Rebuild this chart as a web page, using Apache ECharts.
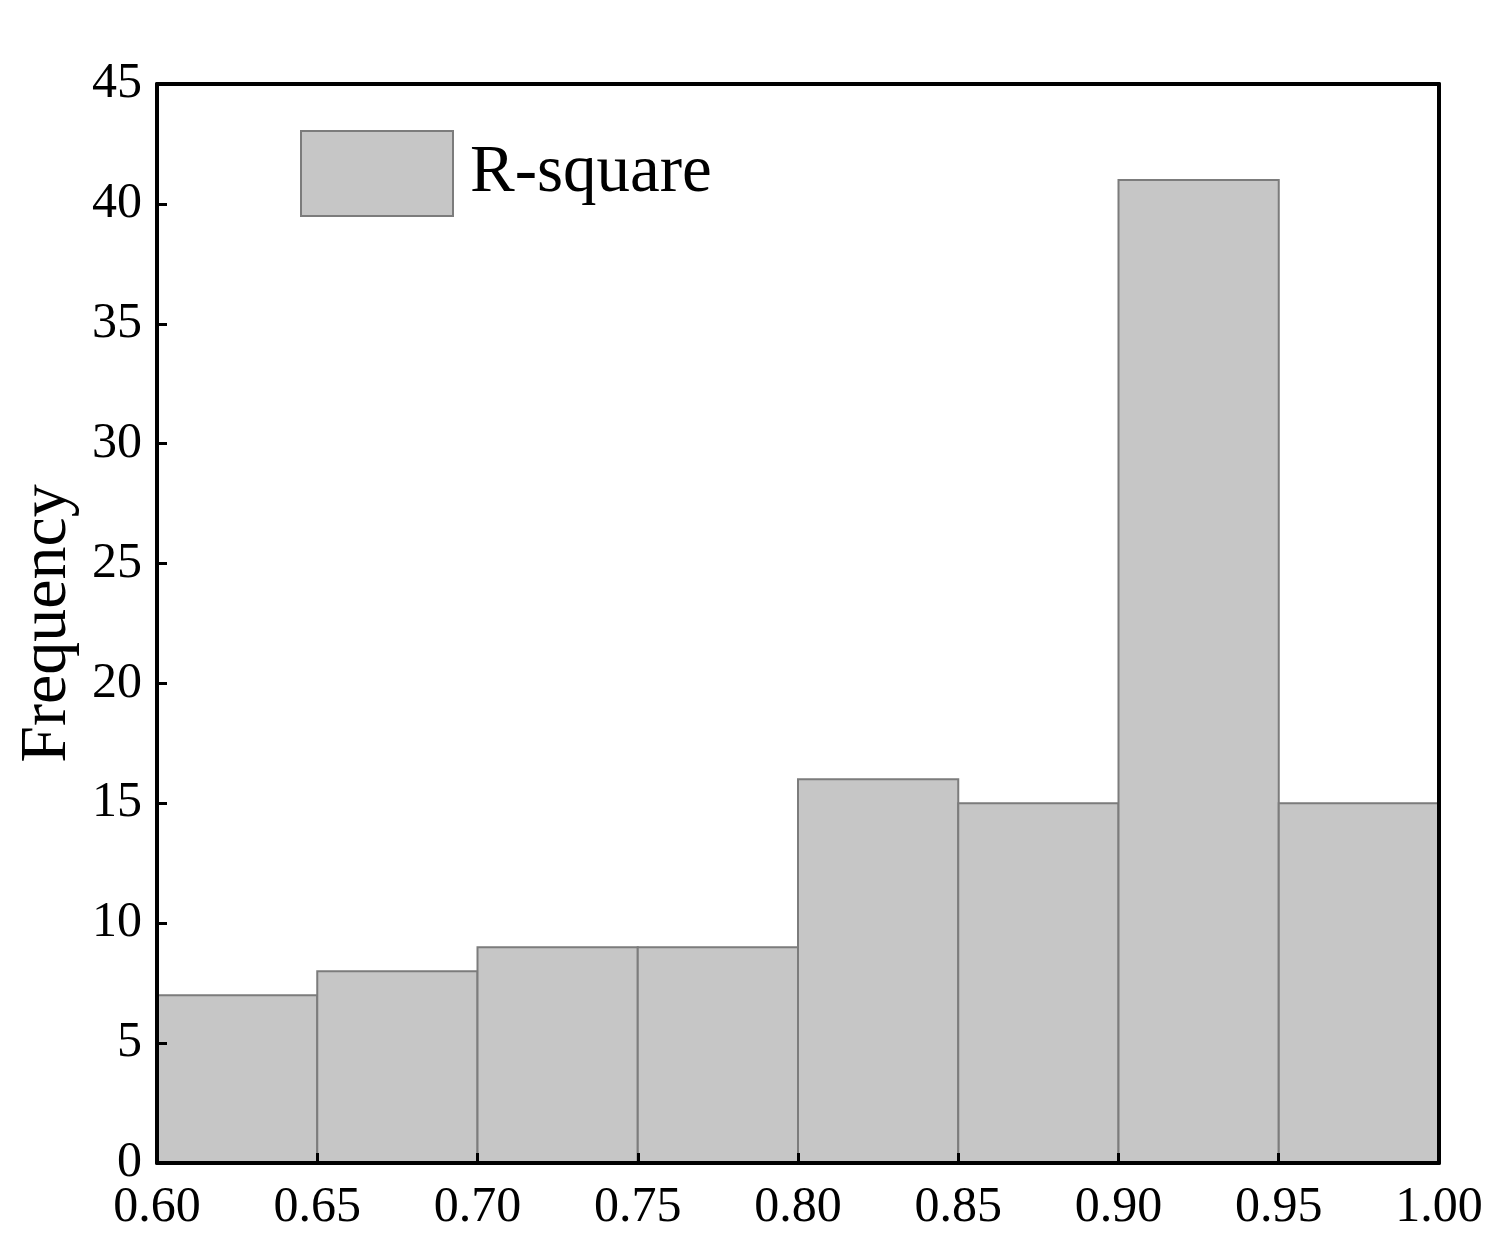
<!DOCTYPE html>
<html>
<head>
<meta charset="utf-8">
<script src="https://cdn.jsdelivr.net/npm/echarts@6/dist/echarts.min.js"></script>
<style>
html, body { margin: 0; padding: 0; background: #fff; }
#main { width: 1504px; height: 1260px; }
</style>
</head>
<body>
<div id="main"></div>
<script>
// bin edges and counts
var binStart = [0.60, 0.65, 0.70, 0.75, 0.80, 0.85, 0.90, 0.95];
var binEnd   = [0.65, 0.70, 0.75, 0.80, 0.85, 0.90, 0.95, 1.00];
var counts   = [7, 8, 9, 9, 16, 15, 41, 15];
var seriesName = 'R-square';

var data = [];
for (var i = 0; i < counts.length; i++) {
	data.push([binStart[i], binEnd[i], counts[i]]);
}

var fontName = '"Liberation Serif", "Times New Roman", serif';
var fill = '#c6c6c6';
var edge = '#7c7c7c';

var myChart = echarts.init(document.getElementById('main'));

var option = {
	backgroundColor: '#ffffff',
	animation: false,
	grid: {
		left: 157,
		right: 65,
		top: 84,
		bottom: 97,
		outerBoundsMode: 'none',
		containLabel: false
	},
	legend: {
		left: 300,
		top: 130,
		padding: 0,
		itemWidth: 152,
		itemHeight: 85,
		data: [{ name: seriesName, icon: 'rect' }],
		itemStyle: {
			color: fill,
			borderColor: edge,
			borderWidth: 2
		},
		textStyle: {
			fontFamily: fontName,
			fontSize: 67,
			color: '#000',
			padding: [8, 0, 0, 12]
		}
	},
	xAxis: [
		{
			type: 'value',
			min: 0.6,
			max: 1.0,
			interval: 0.05,
			z: 10,
			axisLine: { show: true, onZero: false, lineStyle: { color: '#000', width: 4 } },
			axisTick: { show: true, inside: true, length: 10, lineStyle: { color: '#000', width: 3 } },
			axisLabel: {
				margin: 20,
				fontFamily: fontName,
				fontSize: 50,
				color: '#000',
				formatter: function(v) { return v.toFixed(2); }
			},
			splitLine: { show: false }
		},
		{
			type: 'value',
			position: 'top',
			min: 0.6,
			max: 1.0,
			z: 10,
			axisLine: { show: true, onZero: false, lineStyle: { color: '#000', width: 4 } },
			axisTick: { show: false },
			axisLabel: { show: false },
			splitLine: { show: false }
		}
	],
	yAxis: [
		{
			type: 'value',
			name: 'Frequency',
			nameLocation: 'middle',
			nameGap: 74,
			nameTextStyle: {
				fontFamily: fontName,
				fontSize: 66,
				color: '#000'
			},
			min: 0,
			max: 45,
			interval: 5,
			z: 10,
			axisLine: { show: true, onZero: false, lineStyle: { color: '#000', width: 4 } },
			axisTick: { show: true, inside: true, length: 10, lineStyle: { color: '#000', width: 3 } },
			axisLabel: {
				margin: 15,
				fontFamily: fontName,
				fontSize: 50,
				color: '#000'
			},
			splitLine: { show: false }
		},
		{
			type: 'value',
			position: 'right',
			min: 0,
			max: 45,
			z: 10,
			axisLine: { show: true, onZero: false, lineStyle: { color: '#000', width: 4 } },
			axisTick: { show: false },
			axisLabel: { show: false },
			splitLine: { show: false }
		}
	],
	series: [
		{
			name: seriesName,
			type: 'custom',
			xAxisIndex: 0,
			yAxisIndex: 0,
			itemStyle: { color: fill, borderColor: edge, borderWidth: 2 },
			encode: { x: [0, 1], y: 2 },
			data: data,
			renderItem: function(params, api) {
				var topLeft = api.coord([api.value(0), api.value(2)]);
				var bottomRight = api.coord([api.value(1), 0]);
				return {
					type: 'rect',
					shape: {
						x: topLeft[0],
						y: topLeft[1],
						width: bottomRight[0] - topLeft[0],
						height: bottomRight[1] - topLeft[1]
					},
					style: {
						fill: fill,
						stroke: edge,
						lineWidth: 2
					}
				};
			}
		}
	]
};

myChart.setOption(option);
</script>
</body>
</html>
